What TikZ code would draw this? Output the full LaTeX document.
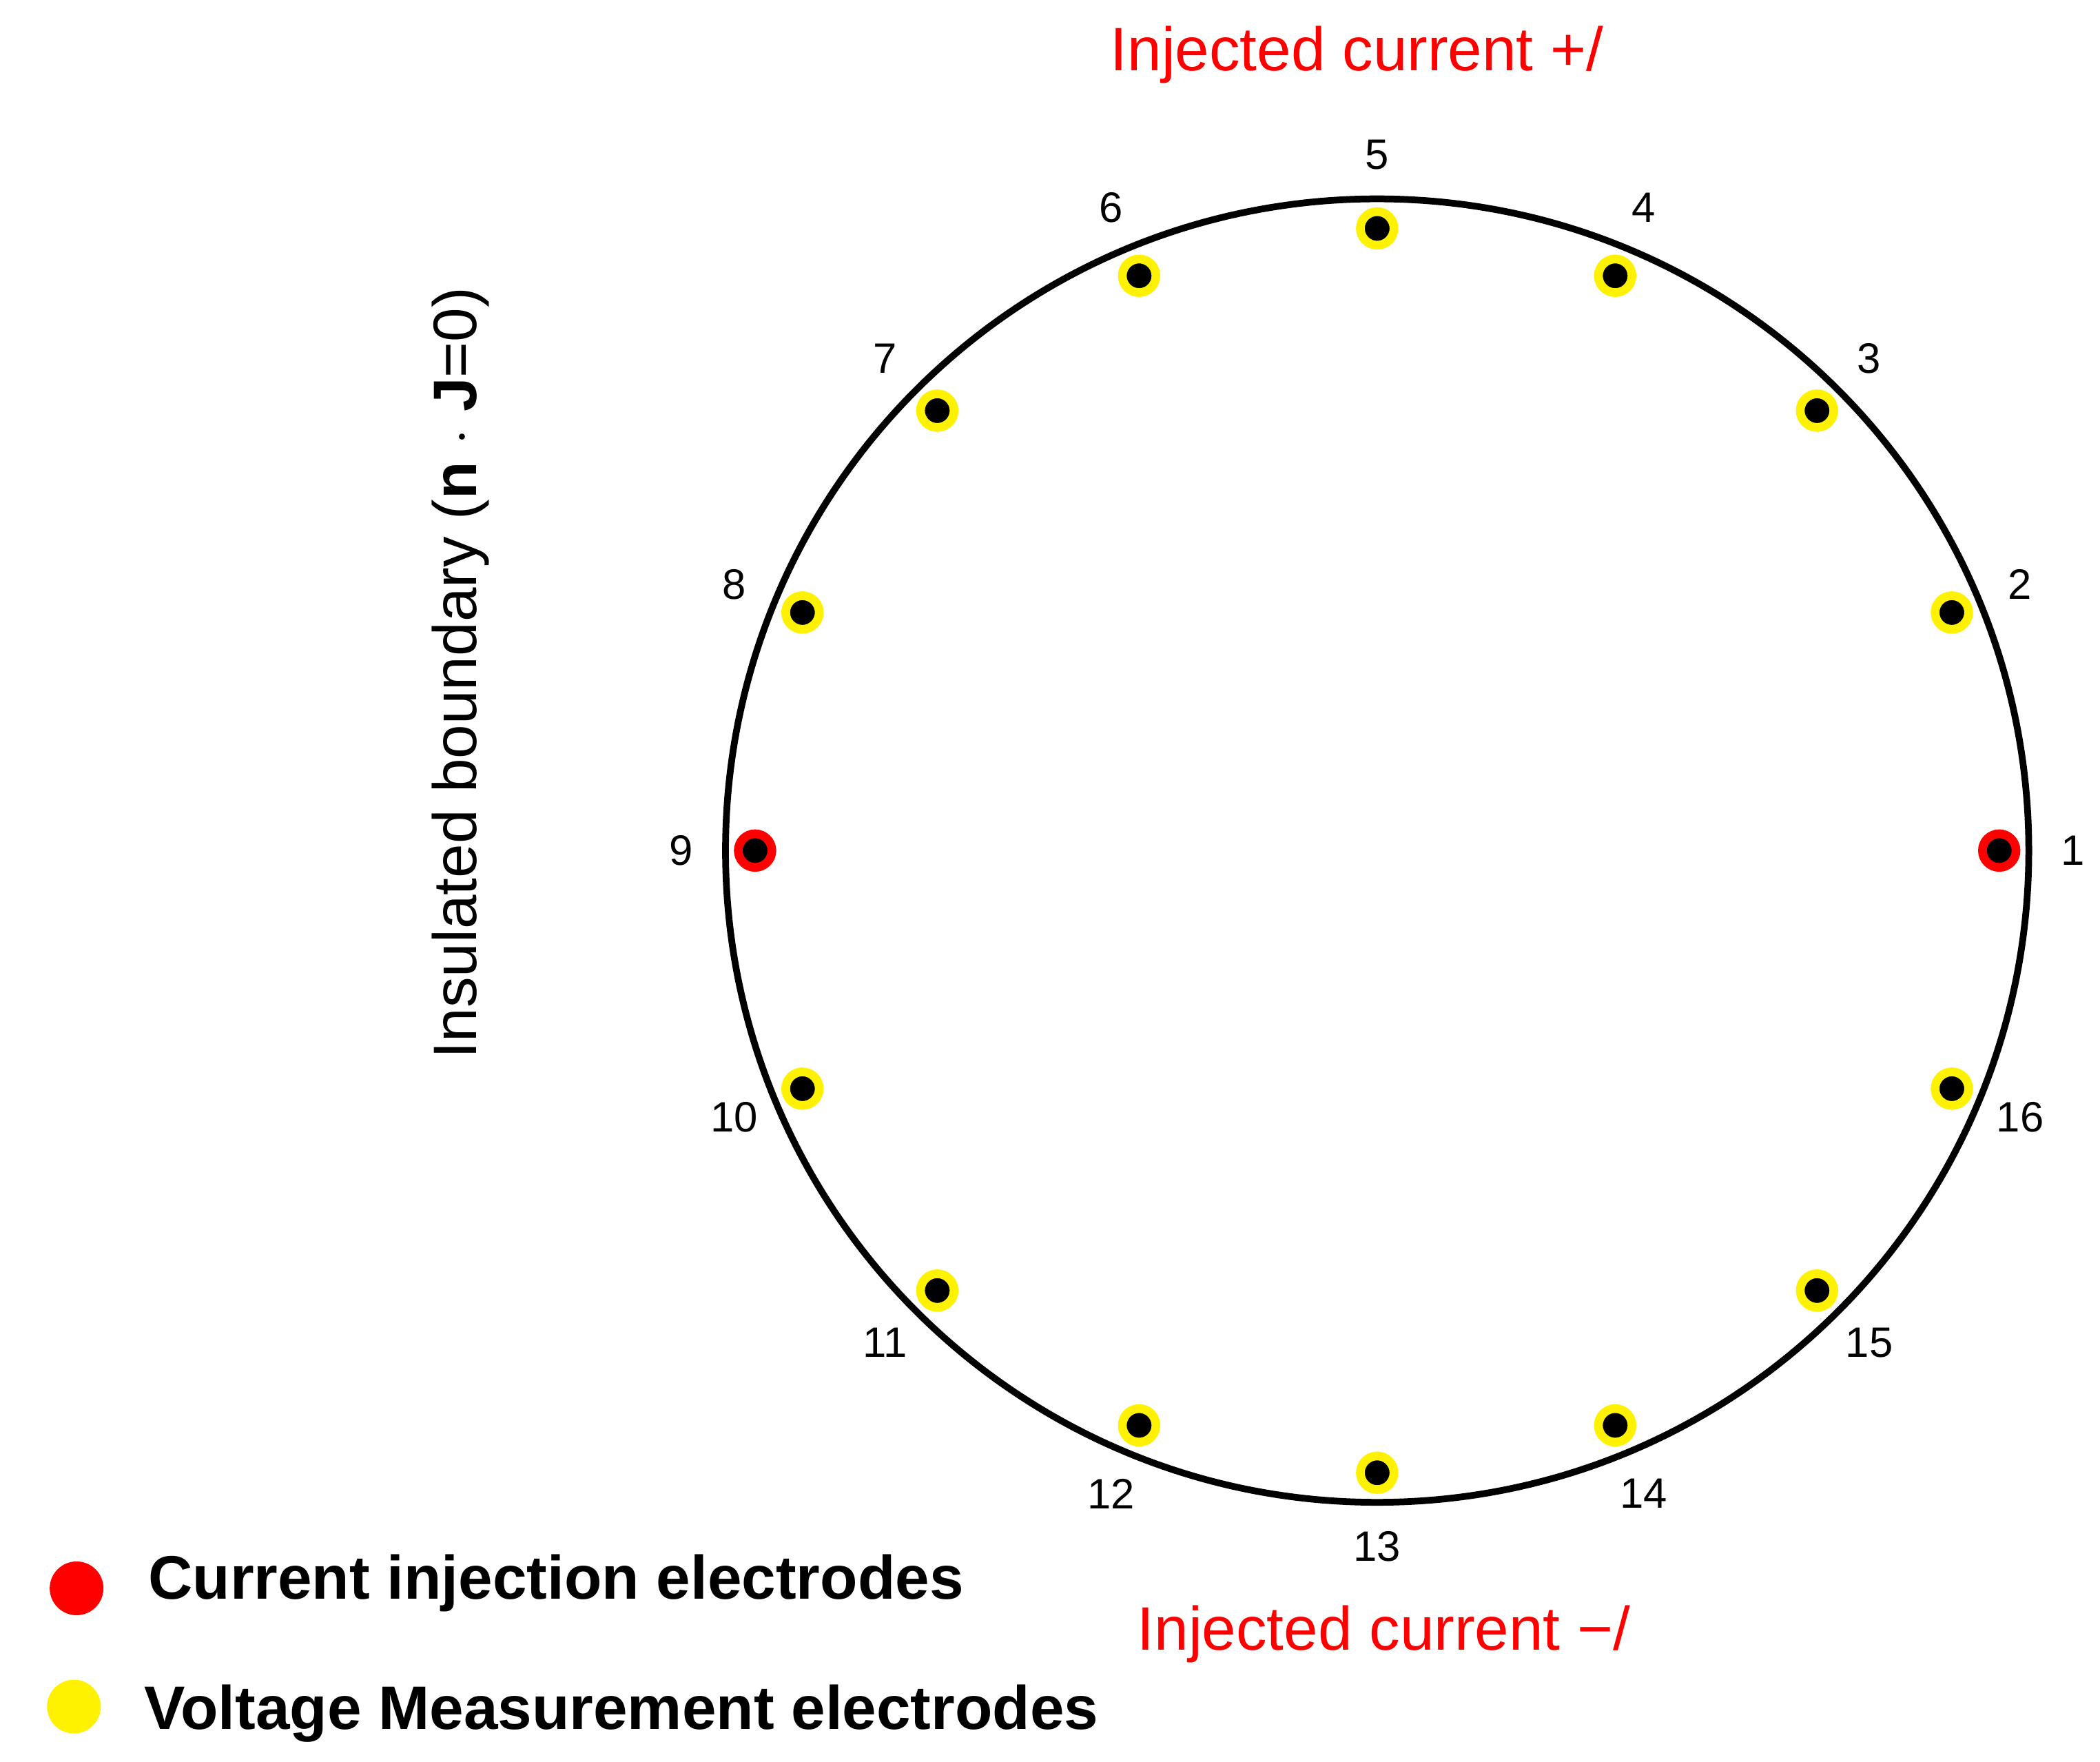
\documentclass[tikz,border=0pt]{standalone}
\usepackage{fontspec}
\setmainfont{Liberation Sans}
\usepackage{tikz}
\usetikzlibrary{calc}

\tikzset{
  elec/.style={fill=black, circle, inner sep=0pt, minimum size=0.25cm, draw=#1, line width=0.065cm},
  num/.style={font=\fontsize{9}{11}\selectfont},
  redtxt/.style={text=red, font=\fontsize{13}{16}\selectfont},
  legtxt/.style={font=\bfseries\fontsize{13}{16}\selectfont, anchor=west}
}

\begin{document}
\begin{tikzpicture}

            \useasboundingbox (0,0) rectangle (15.63,13.11);
            \coordinate (o) at (10.25,6.78);

            \draw[black, line width=0.05cm] (o) circle (4.85);

            \foreach \i in {1,...,16} {
                \pgfmathsetmacro{\ang}{(\i-1)*22.5}
                \ifnum\i=1 \def\col{red}\else\ifnum\i=9 \def\col{red}\else\def\col{yellow}\fi\fi
                \node[elec=\col] (e\i) at ($(o)+(\ang:4.63)$) {};
                \node[num] (l\i) at ($(o)+(\ang:5.18)$) {\i};
            }

            \node[redtxt] (top) at (10.1,12.7) {Injected current +/};
            \node[redtxt] (bot) at (10.3,0.95) {Injected current \textminus/};

            \node[font=\fontsize{13}{16}\selectfont, rotate=90] (ins) at (3.43,8.1) {Insulated boundary (\textbf{n} $\cdot$ \textbf{J}=0)};

            \node[fill=red, circle, inner sep=0pt, minimum size=0.4cm] (dr) at (0.57,1.29) {};
            \node[fill=yellow, circle, inner sep=0pt, minimum size=0.4cm] (dy) at (0.55,0.41) {};
            \node[legtxt] (lr) at (0.98,1.33) {Current injection electrodes};
            \node[legtxt] (ly) at (0.95,0.36) {Voltage Measurement electrodes};

\end{tikzpicture}
\end{document}
